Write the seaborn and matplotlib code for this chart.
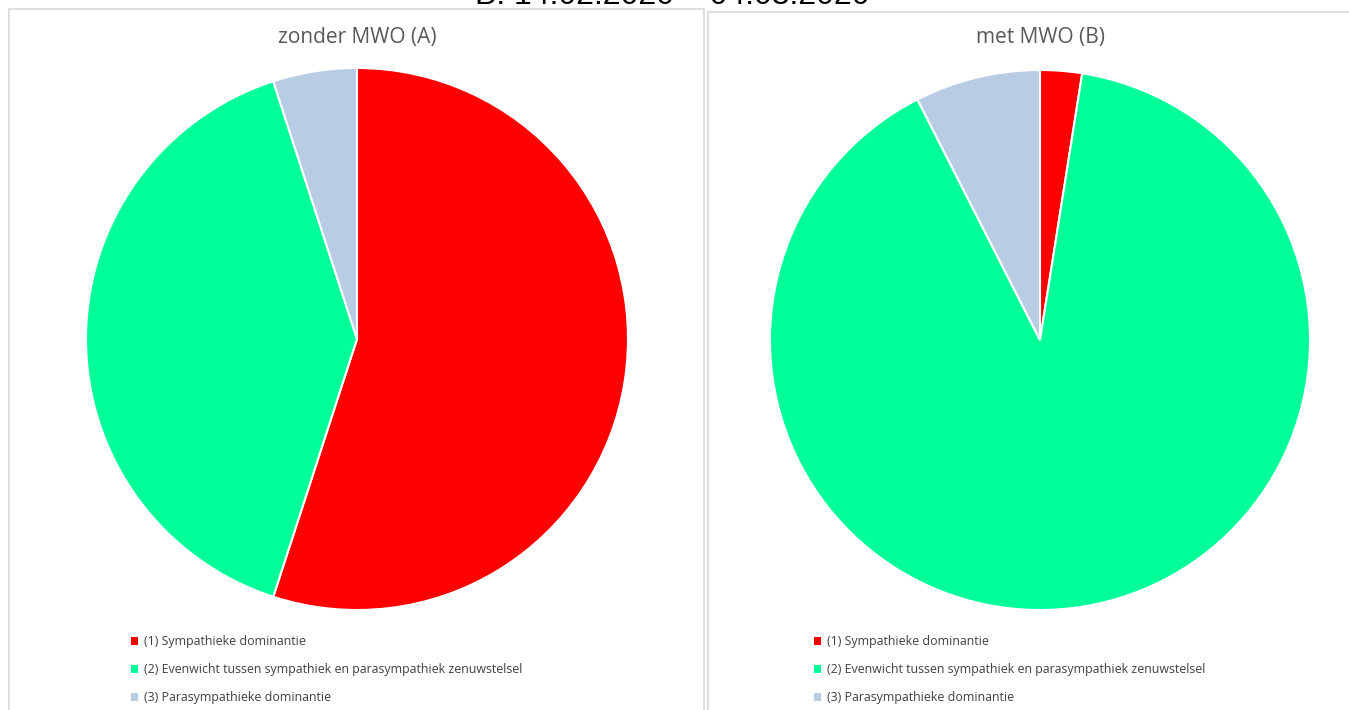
import matplotlib
matplotlib.use("Agg")
import matplotlib.pyplot as plt
import seaborn as sns
from matplotlib.patches import Rectangle, Patch

sns.set_theme(style="white")
plt.rcParams['font.family'] = ['Open Sans', 'DejaVu Sans']

# data
categories = ["(1) Sympathieke dominantie",
              "(2) Evenwicht tussen sympathiek en parasympathiek zenuwstelsel",
              "(3) Parasympathieke dominantie"]
zonder_mwo = [11, 8, 1]
met_mwo = [1, 36, 3]
panel_titles = ["zonder MWO (A)", "met MWO (B)"]
main_title = "B: 14.02.2020 \u2013 04.03.2020"
colors = ["#FF0000", "#00FF99", "#B8CCE4"]

W, H = 1349, 710
fig = plt.figure(figsize=(W / 100, H / 100), dpi=100)

# panel frames (like two excel chart boxes)
fig.patches.append(Rectangle((9 / W, -0.05), (704 - 9) / W, 1.05 - 9 / H,
                             transform=fig.transFigure, fill=False,
                             edgecolor="#D9D9D9", lw=1.2))
fig.patches.append(Rectangle((708 / W, -0.05), 0.5, 1.05 - 12 / H,
                             transform=fig.transFigure, fill=False,
                             edgecolor="#D9D9D9", lw=1.2))

# main title is cut off at the top in the original screenshot
fig.text(672 / W, 1 - 3.5 / H, main_title, ha="center", va="baseline",
         fontsize=23, color="black", family=["Liberation Sans", "DejaVu Sans"])

# pie axes: centre / radius in pixels
layout = [(357, 339, 271), (1040, 340, 270)]
data = [zonder_mwo, met_mwo]
for (cx, cy, r), vals, title in zip(layout, data, panel_titles):
    ax = fig.add_axes([(cx - r) / W, (H - cy - r) / H, 2 * r / W, 2 * r / H])
    ax.pie(vals, colors=colors, startangle=90, counterclock=False,
           wedgeprops=dict(edgecolor="white", linewidth=1.5))
    ax.set_xlim(-1, 1)
    ax.set_ylim(-1, 1)
    ax.set_aspect("equal")
    ax.axis("off")
    fig.text(cx / W, 1 - 37 / H, title, ha="center", va="center",
             fontsize=15, color="#595959")

    # legend
    handles = [Patch(facecolor=c, edgecolor="none") for c in colors]
    fig.legend(handles, categories, loc="upper left",
               bbox_to_anchor=((cx - 226) / W, 1 - 635 / H),
               frameon=False, fontsize=8.9, labelcolor="#404040",
               handlelength=0.6, handleheight=0.6, handletextpad=0.45,
               labelspacing=1.23, borderaxespad=0, borderpad=0)

fig.savefig("out.png", dpi=100, facecolor="white")
